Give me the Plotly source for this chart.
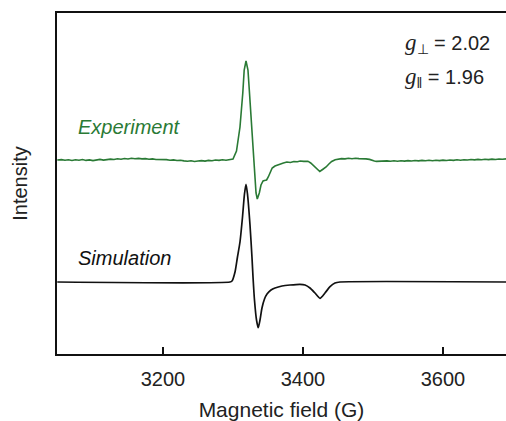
import plotly.graph_objects as go

# ---------------- data ----------------
exp_field = [3049, 3055, 3060, 3065, 3070, 3075, 3080, 3085, 3090, 3095, 3100, 3105, 3110, 3115,
             3120, 3125, 3130, 3135, 3140, 3145, 3150, 3155, 3160, 3165, 3170, 3175, 3180, 3185,
             3190, 3195, 3200, 3205, 3210, 3215, 3220, 3225, 3230, 3235, 3240, 3245, 3250, 3255,
             3260, 3265, 3270, 3275, 3280, 3285, 3290, 3295, 3300, 3305, 3310, 3314, 3316, 3318.6,
             3321.4, 3323.3, 3325.7, 3328.1, 3330.4, 3332.9, 3334.7, 3337.6, 3340, 3343, 3345, 3348,
             3350.4, 3353, 3356, 3360, 3363, 3368, 3372, 3377, 3382, 3387, 3392, 3396, 3401, 3407,
             3411, 3415, 3419, 3424, 3428, 3433, 3437, 3441, 3446, 3450, 3455, 3460, 3465, 3470,
             3475, 3480, 3485, 3490, 3495, 3498, 3502, 3505, 3510, 3515, 3520, 3525, 3530, 3535,
             3540, 3545, 3550, 3555, 3560, 3565, 3570, 3575, 3580, 3585, 3590, 3595, 3600, 3605,
             3610, 3615, 3620, 3625, 3630, 3635, 3640, 3645, 3650, 3655, 3660, 3665, 3670, 3675,
             3680, 3685, 3690]
exp_signal = [0.0, 0.4, -0.3, 0.2, -0.5, 0.3, -0.2, 0.5, -0.4, 0.1, -0.6, 0.2, 0.6, -0.1,
              0.4, 0.9, 0.5, 1.2, 0.8, 1.5, 1.0, 1.8, 1.3, 1.6, 1.1, 1.4, 0.8, 1.1,
              0.5, 0.6, 0.1, 0.4, -0.2, 0.1, -0.5, -0.3, -0.9, -1.3, -0.8, -1.5, -1.0, -0.6,
              -1.1, -0.4, -0.7, 0.0, -0.4, 0.3, -0.2, 0.4, 1.0, 9, 33, 67, 90, 99,
              90, 70, 43, 13, -13, -33, -39, -33, -25, -21, -20.5, -20,
              -17, -12, -8, -6, -5, -4, -3, -2, -2.5, -1.5, -1.8, -1.0, -1.4, -1.2,
              -3, -5.5, -8.5, -11.5, -9.5, -7, -4, -1.5, 0.3, 0.8, 1.4, 1.1, 1.7, 1.3,
              1.8, 1.4, 1.5, 1.1, 0.6, -0.3, -1.0, -1.4, -1.1, -1.5, -0.9, -1.3, -0.8, -1.2,
              -0.7, -1.1, -0.6, -1.0, -0.5, -0.9, -0.4, -0.8, -0.3, -0.7, -0.2, -0.6, -0.1, -0.5,
              0.0, -0.4, 0.2, -0.2, 0.3, 0.0, 0.5, 0.1, 0.6, 0.2, 0.7, 0.4, 0.9, 0.5,
              1.0, 0.7, 1.1]

sim_field = [3049, 3295.7, 3298.6, 3302.9, 3306.4, 3310, 3313.6, 3316.4, 3318.6, 3320.7, 3324.3,
             3327.1, 3328.6, 3330.7, 3333.6, 3336.1, 3338.6, 3341.4, 3345, 3348.6, 3354.3, 3360,
             3370, 3381.4, 3395.7, 3402.9, 3410, 3417.1, 3424.3, 3431.4, 3438.6, 3445.7, 3452.9,
             3690]
sim_signal = [0, 0, 1, 10, 25, 40, 65, 88, 97.7, 88, 57,
              25, 5, -18, -38, -45.7, -38, -26, -17, -12, -8, -6,
              -4, -3, -2.3, -3, -6, -11, -16.3, -11, -4.7, -1, 0,
              0]

exp_offset = 194
sim_offset = 72

x_ticks = [3200, 3400, 3600]
x_range = [3048.6, 3690]
y_range = [0, 341]

GREEN = "#2a7a35"
SANS = "Arial, Liberation Sans, sans-serif"

fig = go.Figure()
fig.add_trace(go.Scatter(
    x=exp_field, y=[v + exp_offset for v in exp_signal], mode="lines",
    line=dict(color=GREEN, width=1.6), showlegend=False, hoverinfo="skip"))
fig.add_trace(go.Scatter(
    x=sim_field, y=[v + sim_offset for v in sim_signal], mode="lines",
    line=dict(color="#111111", width=1.7, shape="spline", smoothing=0.6),
    showlegend=False, hoverinfo="skip"))

fig.add_annotation(x=76, y=127, text="<i>Experiment</i>", showarrow=False,
                   font=dict(family=SANS, size=20, color=GREEN))
fig.add_annotation(x=76, y=258, text="<i>Simulation</i>", showarrow=False,
                   font=dict(family=SANS, size=20, color="#111111"))
fig.add_annotation(x=403, y=43,
                   text="<span style='font-family:Liberation Serif;font-size:23px'><i>g</i></span>"
                        "<sub>⊥</sub> = 2.02",
                   showarrow=False, font=dict(family=SANS, size=20, color="#222222"))
fig.add_annotation(x=403, y=77,
                   text="<span style='font-family:Liberation Serif;font-size:23px'><i>g</i></span>"
                        "<sub>‖</sub> = 1.96",
                   showarrow=False, font=dict(family=SANS, size=20, color="#222222"))

# convert annotation pixel positions to paper coords
W, H = 506, 421
ml, mr, mt, mb = 57, 0, 13, 67
pw, ph = W - ml - mr, H - mt - mb
for a in fig.layout.annotations:
    px, py = a.x, a.y
    a.update(xref="paper", yref="paper", x=(px - ml) / pw, y=1 - (py - mt) / ph,
             xanchor="left", yanchor="middle")

fig.update_layout(
    width=W, height=H, margin=dict(l=ml, r=mr, t=mt, b=mb),
    paper_bgcolor="white", plot_bgcolor="white",
    font=dict(family=SANS, size=20, color="#222222"),
    xaxis=dict(range=x_range, tickvals=x_ticks, ticktext=[str(t) for t in x_ticks],
               ticks="inside", ticklen=7, tickwidth=1.5, tickcolor="#111111",
               ticklabelstandoff=6, tickfont=dict(size=20),
               showline=True, linecolor="#111111", linewidth=2, mirror=True,
               showgrid=False, zeroline=False,
               title=dict(text="Magnetic field (G)", font=dict(size=21), standoff=16)),
    yaxis=dict(range=y_range, showticklabels=False, ticks="",
               showline=True, linecolor="#111111", linewidth=2, mirror=False,
               showgrid=False, zeroline=False,
               title=dict(text="Intensity", font=dict(size=20), standoff=22)),
)

fig.write_html("out.html")
